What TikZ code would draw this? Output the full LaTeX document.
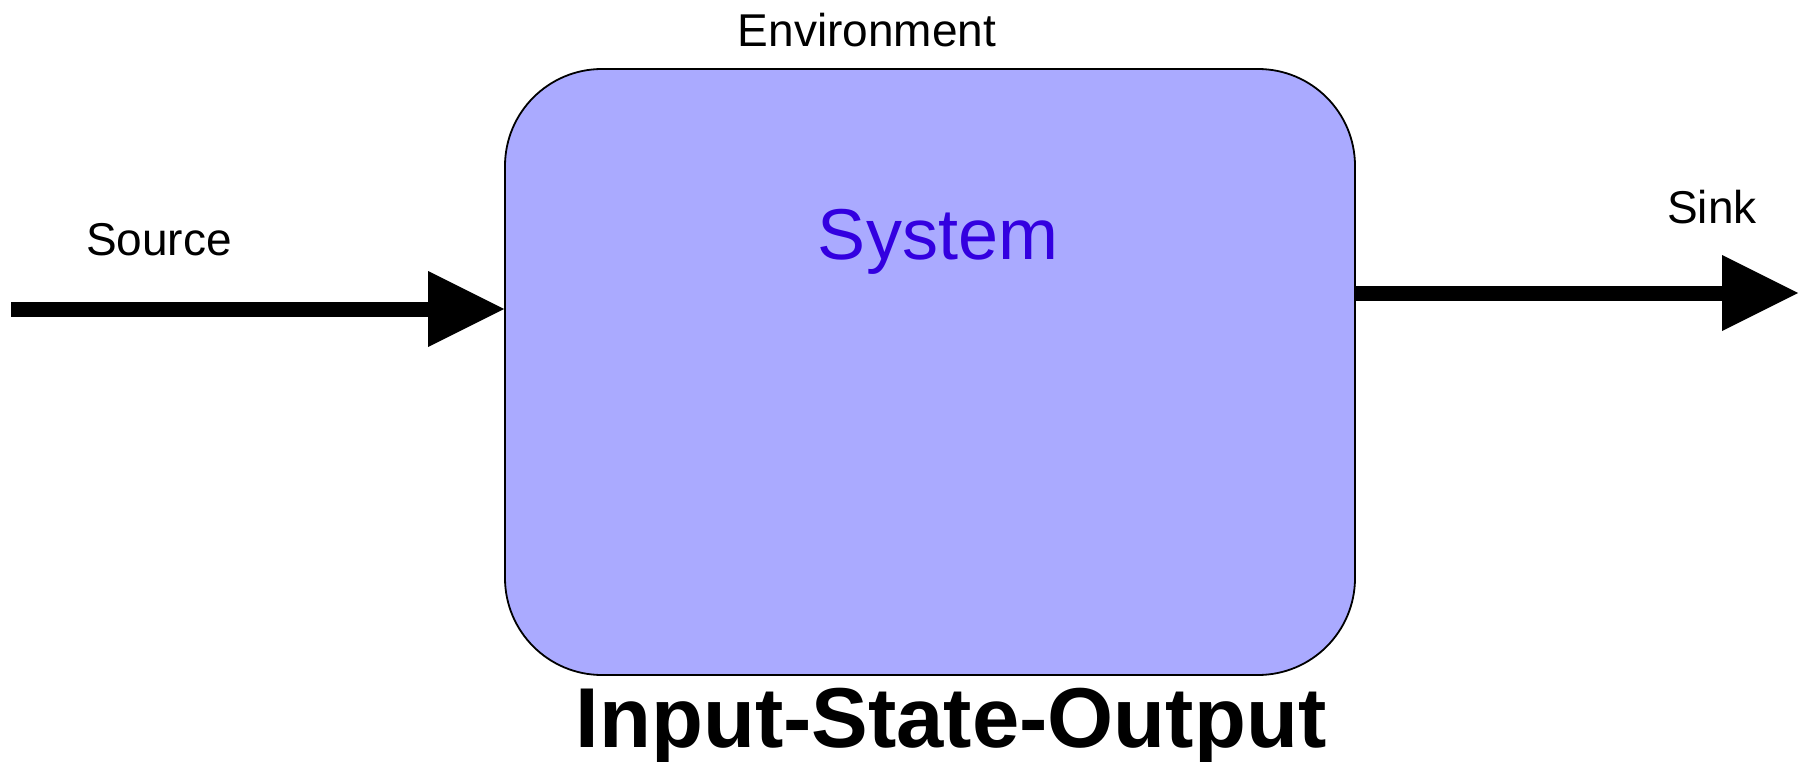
\documentclass[tikz,border=0pt]{standalone}
\usepackage{fontspec}
\setmainfont{Liberation Sans}
\usetikzlibrary{arrows.meta}
\definecolor{boxfill}{HTML}{AAAAFF}
\definecolor{systext}{HTML}{3300E0}
\tikzset{
  sysbox/.style={draw=black, line width=1.8pt, fill=boxfill, rounded corners=97pt,
    minimum width=850pt, minimum height=606pt, inner sep=0pt},
  flow/.style={line width=15pt, -{Triangle[length=76pt,width=76pt,line width=0pt]}},
  lbl/.style={anchor=base, inner sep=0pt, font=\fontsize{46}{55}\selectfont},
}
\begin{document}
\begin{tikzpicture}[x=1pt,y=-1pt]
\useasboundingbox (0,0) rectangle (1807,762);
\node[sysbox] (box) at (930,372) {};
\node[anchor=base, inner sep=0pt, text=systext, font=\fontsize{72}{86}\selectfont] (sys) at (938,259) {System};
\node[lbl] (env) at (867,47) {Environment};
\node[lbl] (src) at (159,255) {Source};
\node[lbl] (snk) at (1712,223) {Sink};
\node[anchor=base, inner sep=0pt, font=\bfseries\fontsize{85}{100}\selectfont] (title) at (951,747) {Input-State-Output};
\coordinate (in) at (11,309);
\coordinate (outend) at (1798,293);
\draw[flow] (in) -- (box.west |- in);
\draw[flow] (box.east |- outend) -- (outend);
\end{tikzpicture}
\end{document}
